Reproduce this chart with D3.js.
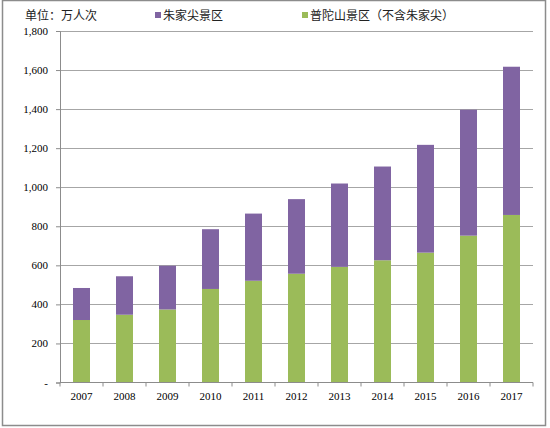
<!DOCTYPE html>
<html>
<head>
<meta charset="utf-8">
<script src="https://cdn.jsdelivr.net/npm/d3@7"></script>
<style>
  body { margin: 0; background: #fff; }
  svg { display: block; }
</style>
</head>
<body>
<svg id="chart" width="550" height="428"></svg>
<script>
// data (万人次)
var years = ["2007", "2008", "2009", "2010", "2011", "2012", "2013", "2014", "2015", "2016", "2017"];
var putuoshan = [320, 347, 374, 479, 521, 557, 592, 626, 665, 752, 858];
var zhujiajian = [164, 197, 224, 306, 344, 382, 427, 480, 552, 645, 759];
var seriesNames = ["朱家尖景区", "普陀山景区（不含朱家尖）"];
var yTicks = [0, 200, 400, 600, 800, 1000, 1200, 1400, 1600, 1800];

var colors = { zhu: "#8064a2", pu: "#9bbb59" };
var serif = "'Liberation Serif', 'Times New Roman', serif";
var cjk = "'Noto Sans CJK SC', sans-serif";

var svg = d3.select("#chart");
var margin = { top: 31, right: 17, bottom: 45, left: 60 };
var width = 550 - margin.left - margin.right;
var height = 382.5 - margin.top;

// outer frame
svg.append("rect")
    .attr("x", 2.5).attr("y", 0.5)
    .attr("width", 543).attr("height", 425)
    .attr("fill", "#fff")
    .attr("stroke", "#8c8c8c")
    .attr("stroke-width", 1.5);

var g = svg.append("g")
    .attr("transform", "translate(" + margin.left + "," + margin.top + ")");

var x = d3.scaleBand().range([0, width]).padding(0.6).paddingOuter(0.3)
    .domain(years);
var xb = d3.scaleBand().range([0, width]).padding(0).domain(years);

var y = d3.scaleLinear().range([height, 0]).domain([0, 1800]);

// gridlines
g.selectAll(".grid")
    .data(yTicks.slice(1))
    .enter().append("line")
    .attr("class", "grid")
    .attr("x1", 0).attr("x2", width)
    .attr("y1", function(d) { return Math.round(y(d)) + 0.5; })
    .attr("y2", function(d) { return Math.round(y(d)) + 0.5; })
    .attr("stroke", "#a6a6a6")
    .attr("stroke-width", 1.2);

// stacked bars
var stackData = years.map(function(yr, i) {
    return { year: yr, pu: putuoshan[i], zhu: zhujiajian[i] };
});
var stack = d3.stack().keys(["pu", "zhu"])(stackData);

var bw = 17;
g.selectAll(".layer")
    .data(stack)
    .enter().append("g")
    .attr("class", "layer")
    .attr("fill", function(d) { return colors[d.key]; })
    .selectAll("rect")
    .data(function(d) { return d; })
    .enter().append("rect")
    .attr("x", function(d) { return xb(d.data.year) + xb.bandwidth() / 2 - bw / 2; })
    .attr("y", function(d) { return y(d[1]); })
    .attr("width", bw)
    .attr("height", function(d) { return y(d[0]) - y(d[1]); });

// y axis
var yAxis = g.append("g")
    .call(d3.axisLeft(y).tickValues(yTicks).tickSize(4).tickPadding(8)
        .tickFormat(function(d) { return d === 0 ? "-" : d3.format(",")(d); }));
yAxis.select(".domain").attr("stroke", "#8c8c8c");
yAxis.selectAll(".tick line").attr("stroke", "#8c8c8c");
yAxis.selectAll("text")
    .attr("font-family", serif)
    .attr("font-size", "11px")
    .attr("fill", "#000");

// x axis: ticks at category boundaries
var xAxis = g.append("g")
    .attr("transform", "translate(0," + height + ")");
xAxis.append("line")
    .attr("x1", 0).attr("x2", width)
    .attr("stroke", "#8c8c8c");
xAxis.selectAll(".xtick")
    .data(years.concat(["end"]))
    .enter().append("line")
    .attr("x1", function(d, i) { return i * xb.bandwidth(); })
    .attr("x2", function(d, i) { return i * xb.bandwidth(); })
    .attr("y1", 0).attr("y2", 4)
    .attr("stroke", "#8c8c8c");
xAxis.selectAll(".xlabel")
    .data(years)
    .enter().append("text")
    .attr("x", function(d) { return xb(d) + xb.bandwidth() / 2; })
    .attr("y", 17)
    .attr("text-anchor", "middle")
    .attr("font-family", serif)
    .attr("font-size", "11px")
    .attr("fill", "#000")
    .text(function(d) { return d; });

// unit label
svg.append("text")
    .attr("x", 25).attr("y", 20)
    .attr("font-family", cjk)
    .attr("font-size", "12px")
    .attr("fill", "#222")
    .text("单位：万人次");

// legend
var legend = [
    { name: seriesNames[0], color: colors.zhu, x: 155 },
    { name: seriesNames[1], color: colors.pu, x: 302 }
];
var lg = svg.selectAll(".legend")
    .data(legend)
    .enter().append("g")
    .attr("class", "legend")
    .attr("transform", function(d) { return "translate(" + d.x + ",0)"; });
lg.append("rect")
    .attr("x", 0).attr("y", 12)
    .attr("width", 6).attr("height", 6)
    .attr("fill", function(d) { return d.color; });
lg.append("text")
    .attr("x", 8).attr("y", 20)
    .attr("font-family", cjk)
    .attr("font-size", "12px")
    .attr("fill", "#222")
    .text(function(d) { return d.name; });
</script>
</body>
</html>
